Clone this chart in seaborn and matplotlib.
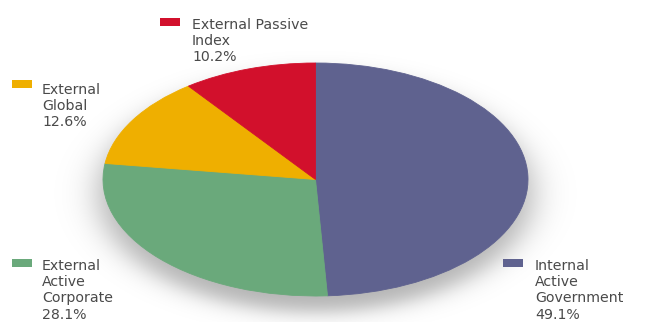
import numpy as np
import matplotlib
matplotlib.use("Agg")
import matplotlib.pyplot as plt
from matplotlib.patches import Rectangle
import seaborn as sns

# Portfolio allocation by mandate
labels = ["Internal\nActive\nGovernment", "External\nActive\nCorporate",
          "External\nGlobal", "External Passive\nIndex"]
shares = [49.1, 28.1, 12.6, 10.2]
colors = ["#5f628f", "#6aa97b", "#efaf00", "#d2102c"]

sns.set_theme(style="white")
plt.rcParams["font.family"] = ["DejaVu Sans"]

W, H = 670, 322
fig = plt.figure(figsize=(W / 100, H / 100), dpi=100)
fig.patch.set_facecolor("white")


def fx(px):
    return px / W


def fy(py):
    return 1 - py / H


# pie occupies an ellipse (stretched horizontally)
left, right, top, bottom = 103, 528, 63, 296
pie_rect = [fx(left), fy(bottom), fx(right - left), (bottom - top) / H]

# soft drop shadow under the pie
bg = fig.add_axes([0, 0, 1, 1], zorder=0)
bg.set_axis_off()
yy, xx = np.mgrid[0:H, 0:W] + 0.5
cx, cy = (left + right) / 2, (top + bottom) / 2 + 14
rx, ry = (right - left) / 2 + 4, (bottom - top) / 2 + 2
r = np.sqrt(((xx - cx) / rx) ** 2 + ((yy - cy) / ry) ** 2)
dist = (r - 1) * 0.5 * (rx + ry)
alpha = 0.30 / (1 + np.exp(dist / 8.0))
shadow = np.zeros((H, W, 4))
shadow[..., 3] = alpha
bg.imshow(shadow, extent=(0, W, H, 0), interpolation="bilinear")
bg.set_xlim(0, W)
bg.set_ylim(H, 0)

ax = fig.add_axes(pie_rect, zorder=1)
ax.pie(shares, colors=colors, startangle=90, counterclock=False,
       radius=1.0, wedgeprops=dict(linewidth=0.6))
for w, c in zip(ax.patches, colors):
    w.set_edgecolor(c)
ax.set_aspect("auto")
ax.set_xlim(-1, 1)
ax.set_ylim(-1, 1)
ax.set_axis_off()

# category keys: swatch position and text position (pixels)
key_pos = [
    (503, 259, 535, 259),
    (12, 259, 42, 259),
    (12, 80, 42, 83),
    (160, 18, 192, 18),
]
text_color = "#4a4a4a"
for (mx, my, tx, ty), lab, val, col in zip(key_pos, labels, shares, colors):
    fig.add_artist(Rectangle((fx(mx), fy(my + 8)), fx(20), 8 / H,
                             transform=fig.transFigure, facecolor=col,
                             edgecolor="none", zorder=3))
    fig.text(fx(tx), fy(ty), f"{lab}\n{val:.1f}%", ha="left", va="top",
             fontsize=10.2, color=text_color, linespacing=1.2, zorder=3)

fig.savefig("out.png", dpi=100)
